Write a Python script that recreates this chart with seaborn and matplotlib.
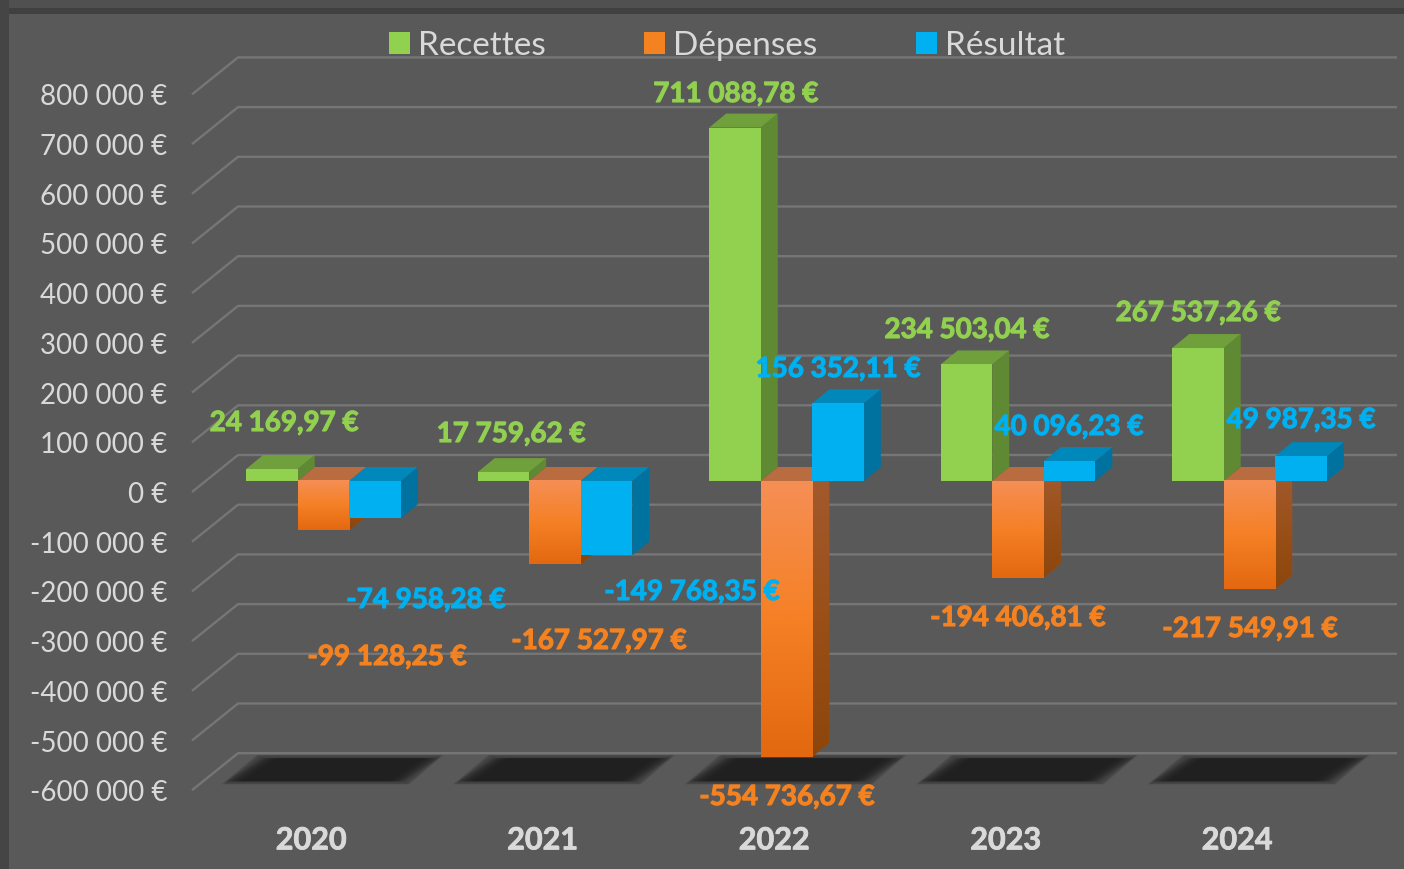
import numpy as np
import pandas as pd
import seaborn as sns
import matplotlib.pyplot as plt
import matplotlib.patheffects as pe
from matplotlib.colors import LinearSegmentedColormap
from matplotlib.patches import Polygon, Rectangle
from matplotlib.transforms import ScaledTranslation

years = ['2020', '2021', '2022', '2023', '2024']
recettes = [24169.97, 17759.62, 711088.78, 234503.04, 267537.26]
depenses = [-99128.25, -167527.97, -554736.67, -194406.81, -217549.91]
resultat = [-74958.28, -149768.35, 156352.11, 40096.23, 49987.35]
y_ticks = [800000, 700000, 600000, 500000, 400000, 300000, 200000, 100000, 0,
           -100000, -200000, -300000, -400000, -500000, -600000]

# where the chart author dragged the labels (centre, in pixels)
label_px = {
    'Recettes': [(284, 423), (511, 434), (736, 94), (967, 330), (1198, 313)],
    'Dépenses': [(387, 657), (599, 641), (787, 797), (1018, 618), (1250, 629)],
    'Résultat': [(426, 600), (692, 592), (838, 369), (1069, 427), (1301, 420)],
}

W, H = 1404, 869
BG = '#595959'
TEXT = '#D9D9D9'
colors = {'Recettes': '#92D050', 'Dépenses': '#F58220', 'Résultat': '#00B0F0'}
top_colors = {'Recettes': '#70A03C', 'Dépenses': '#B86C40', 'Résultat': '#0088BA'}
side_colors = {'Recettes': '#5F8A33', 'Dépenses': '#9C5428', 'Résultat': '#0072A0'}

# pixel geometry of the fake 3D box
PX_CAT = 231.5
PX_100K = 49.7
X0, Y0 = 323.5, 481
AX_L, AX_R, AX_T, AX_B = 192, 1397, 30, 800


def dx(px):
    return px / PX_CAT


def dy(px):
    return px / PX_100K * 100000


df = pd.DataFrame({'annee': years * 3,
                   'valeur': recettes + depenses + resultat,
                   'serie': ['Recettes'] * 5 + ['Dépenses'] * 5 + ['Résultat'] * 5})

sns.set_theme(style='dark', rc={'axes.facecolor': BG, 'figure.facecolor': BG})
plt.rcParams['font.family'] = ['Lato', 'DejaVu Sans']

fig = plt.figure(figsize=(W / 100, H / 100), dpi=100)
ax = fig.add_axes([AX_L / W, 1 - AX_B / H, (AX_R - AX_L) / W, (AX_B - AX_T) / H])

sns.barplot(data=df, x='annee', y='valeur', hue='serie', palette=colors,
            width=0.668, saturation=1, linewidth=0, ax=ax)

ax.set_xlim(dx(AX_L - X0), dx(AX_R - X0))
ax.set_ylim(dy(Y0 - AX_B), dy(Y0 - AX_T))
ax.set_xlabel('')
ax.set_ylabel('')
for s in ax.spines.values():
    s.set_visible(False)

# grid: slanted part on the side wall, then along the back wall
GRID_FRONT = (-46, -11)
GRID_BACK = (0, 26)
for v in y_ticks:
    xs = [ax.get_xlim()[0], ax.get_xlim()[0] + dx(46), ax.get_xlim()[1]]
    ys = [v + dy(GRID_FRONT[1]), v + dy(GRID_BACK[1]), v + dy(GRID_BACK[1])]
    ax.plot(xs, ys, color='#767676', lw=1.7, zorder=1, solid_capstyle='butt',
            clip_on=False)

# soft floor shadows
floor_top = -600000 + dy(24)
floor_bot = -600000 - dy(5)
for i in range(len(years)):
    for inset in np.linspace(-2, 20, 14):
        pad = max(min(inset, 3), 0)
        pts = [(i + dx(-100 + inset), floor_bot + dy(pad)),
               (i + dx(84 - inset), floor_bot + dy(pad)),
               (i + dx(118 - inset), floor_top - dy(pad)),
               (i + dx(-65 + inset), floor_top - dy(pad))]
        ax.add_patch(Polygon(pts, closed=True, fc='#1E1E1E', ec='none', alpha=0.17, zorder=2))

# orange faces are shaded top to bottom
front_cmap = LinearSegmentedColormap.from_list('front', ['#F58F55', '#F58025', '#E3680F'])
side_cmap = LinearSegmentedColormap.from_list('side', ['#A35A30', '#9A5018', '#8C460C'])
grad = np.linspace(0, 1, 128)[:, None]

DEPTH_X, DEPTH_Y = dx(17), dy(14)
series = list(colors)
for h, bars in enumerate(ax.containers):
    name = series[h]
    for i, bar in enumerate(bars):
        z = 10 + i * 10 + h * 3
        x, w = bar.get_x(), bar.get_width()
        low = min(bar.get_y(), bar.get_y() + bar.get_height())
        high = max(bar.get_y(), bar.get_y() + bar.get_height())
        bar.set_zorder(z + 1)
        side = [(x + w, low), (x + w + DEPTH_X, low + DEPTH_Y),
                (x + w + DEPTH_X, high + DEPTH_Y), (x + w, high)]
        top = [(x, high), (x + w, high), (x + w + DEPTH_X, high + DEPTH_Y),
               (x + DEPTH_X, high + DEPTH_Y)]
        side_patch = Polygon(side, closed=True, fc=side_colors[name], ec='none', zorder=z)
        ax.add_patch(side_patch)
        ax.add_patch(Polygon(top, closed=True, fc=top_colors[name], ec='none', zorder=z))
        if name == 'Dépenses':
            ax.imshow(grad, extent=[x, x + w, low, high], aspect='auto', cmap=front_cmap,
                      zorder=z + 2)
            img = ax.imshow(grad, extent=[x + w, x + w + DEPTH_X, low, high + DEPTH_Y],
                            aspect='auto', cmap=side_cmap, zorder=z + 0.5)
            img.set_clip_path(side_patch)

ax.set_xlim(dx(AX_L - X0), dx(AX_R - X0))
ax.set_ylim(dy(Y0 - AX_B), dy(Y0 - AX_T))

# ticks
ax.set_yticks(y_ticks)
ax.set_yticklabels([f'{v:,}'.replace(',', ' ') + ' €' for v in y_ticks])
ax.tick_params(axis='y', length=0, pad=18, labelsize=20, labelcolor=TEXT)
ax.tick_params(axis='x', length=0, pad=19, labelsize=22, labelcolor=TEXT)
y_shift = ScaledTranslation(0, -11.5 / 100, fig.dpi_scale_trans)
x_shift = ScaledTranslation(-12.5 / 100, 0, fig.dpi_scale_trans)
for lab in ax.get_yticklabels():
    lab.set_transform(lab.get_transform() + y_shift)
for lab in ax.get_xticklabels():
    lab.set_transform(lab.get_transform() + x_shift)
    lab.set_fontweight('bold')
    lab.set_path_effects([pe.withStroke(linewidth=0.6, foreground=TEXT)])

# data labels
values = {'Recettes': recettes, 'Dépenses': depenses, 'Résultat': resultat}
for name, vals in values.items():
    for v, (px, py) in zip(vals, label_px[name]):
        txt = f'{v:,.2f}'.replace(',', ' ').replace('.', ',') + ' €'
        fig.text(px / W, 1 - py / H, txt, color=colors[name], fontsize=20, fontweight='bold',
                 ha='center', va='center', zorder=200,
                 path_effects=[pe.withStroke(linewidth=0.8, foreground=colors[name])])

sns.move_legend(ax, 'center', bbox_to_anchor=((727 - AX_L) / (AX_R - AX_L), (AX_B - 46) / (AX_B - AX_T)),
                ncol=3, frameon=False, title=None, fontsize=24, labelcolor=TEXT,
                handlelength=0.63, handleheight=0.63, handletextpad=0.25, columnspacing=2.95)

# dark edge at the top and left of the picture
fig.patches.extend([
    Rectangle((0, 1 - 14 / H), 1, 14 / H, transform=fig.transFigure, fc='#404040', ec='none'),
    Rectangle((0, 1 - 8 / H), 1, 8 / H, transform=fig.transFigure, fc='#505050', ec='none'),
    Rectangle((0, 0), 9 / W, 1, transform=fig.transFigure, fc='#454545', ec='none'),
])

fig.savefig('out.png', dpi=100)
